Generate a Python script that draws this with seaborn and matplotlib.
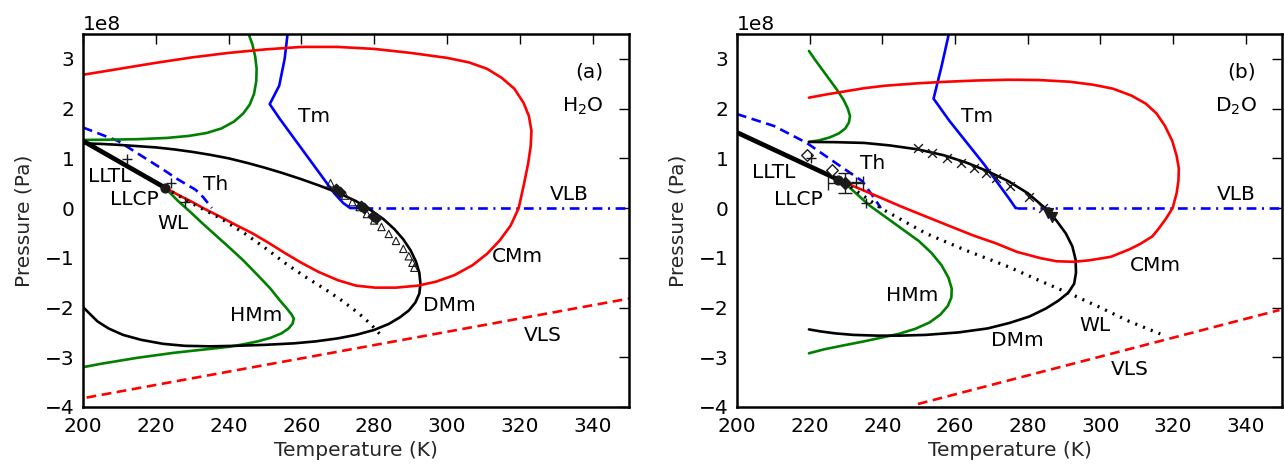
import numpy as np
import pandas as pd
import matplotlib
matplotlib.use("Agg")
import matplotlib.pyplot as plt
import seaborn as sns

sns.set_theme(style="white")
plt.rcParams['font.family'] = ['DejaVu Sans']
plt.rcParams['lines.scale_dashes'] = False
plt.rcParams['mathtext.default'] = 'regular'

FS = 14.5

# ---------------- Panel (a): H2O  (T in K, P in 1e8 Pa) ----------------
a_cmm_T = [200, 210, 220, 230, 240, 250, 260, 270, 280, 290, 300, 306, 311, 315, 318.5, 321,
           322.5, 323.2, 323.0, 322.3, 321.2, 319.7, 317.5, 314.5, 311, 307, 302, 297, 292,
           286, 280.3, 275, 270, 264.6, 260, 255.6, 251, 246.6, 242, 237.6, 233.5, 229.8,
           226, 222.5]
a_cmm_P = [2.68, 2.80, 2.92, 3.03, 3.12, 3.19, 3.24, 3.24, 3.20, 3.12, 3.02, 2.93, 2.80, 2.62,
           2.40, 2.12, 1.85, 1.55, 1.25, 0.90, 0.50, 0.0, -0.35, -0.65, -0.92, -1.15, -1.35,
           -1.48, -1.56, -1.60, -1.60, -1.56, -1.45, -1.28, -1.10, -0.91, -0.70, -0.51, -0.34,
           -0.17, -0.02, 0.13, 0.27, 0.41]

a_hmm_up_T = [245.5, 246.5, 247.3, 247.7, 247.6, 247.0, 245.8, 244.0, 241.5, 238.0, 234.0,
              229.0, 223.0, 215.0, 207.0, 200.0]
a_hmm_up_P = [3.50, 3.30, 3.05, 2.80, 2.55, 2.30, 2.08, 1.90, 1.74, 1.60, 1.51, 1.45, 1.41,
              1.385, 1.375, 1.37]
a_hmm_lo_T = [222.5, 226, 229.8, 233, 236.5, 240, 244, 248, 251.5, 254, 256, 257.3, 257.9,
              257.6, 256.5, 254.5, 251.5, 248, 244, 240, 235, 230, 225, 220, 215, 210, 205,
              200]
a_hmm_lo_P = [0.41, 0.15, -0.10, -0.32, -0.55, -0.78, -1.05, -1.35, -1.62, -1.85, -2.02,
              -2.14, -2.22, -2.32, -2.42, -2.52, -2.61, -2.68, -2.74, -2.79, -2.83, -2.87,
              -2.91, -2.96, -3.01, -3.07, -3.13, -3.20]

a_dmm_T = [200, 205, 210, 215, 220, 225, 230, 235, 240, 245, 250, 255, 260, 265, 270, 275,
           279, 282.5, 285.5, 288, 290, 291.5, 292.4, 292.7, 292.4, 291.3, 289.5, 287, 284,
           280, 275, 270, 264, 258, 250, 242, 235, 228, 222, 216, 211, 207, 204, 201.5, 200]
a_dmm_P = [1.30, 1.29, 1.27, 1.245, 1.22, 1.18, 1.13, 1.07, 1.00, 0.91, 0.81, 0.70, 0.58,
           0.45, 0.31, 0.14, -0.04, -0.22, -0.42, -0.63, -0.85, -1.08, -1.30, -1.52, -1.72,
           -1.90, -2.06, -2.20, -2.33, -2.45, -2.55, -2.62, -2.68, -2.72, -2.75, -2.77, -2.78,
           -2.77, -2.73, -2.65, -2.55, -2.42, -2.28, -2.10, -1.99]

a_lltl_T = [200, 222.5]
a_lltl_P = [1.35, 0.41]

a_th_T = [200, 209.6, 215, 221.9, 226, 230.9, 233, 235.4]
a_th_P = [1.62, 1.35, 1.10, 0.78, 0.58, 0.37, 0.22, 0.0]

a_tm_T = [256.2, 255.4, 253.9, 251.3, 254, 257, 260, 263, 266, 269, 271.5, 273.4, 277.0]
a_tm_P = [3.50, 3.00, 2.46, 2.09, 1.80, 1.50, 1.20, 0.90, 0.60, 0.30, 0.10, 0.0, 0.0]

a_vlb_T = [277, 350]
a_vlb_P = [0, 0]

a_wl_T = [222.5, 229.8, 237.6, 244.4, 250, 255.6, 261, 266.9, 271.5, 275.8, 279, 281.5]
a_wl_P = [0.41, 0.10, -0.20, -0.51, -0.80, -1.11, -1.38, -1.65, -1.88, -2.12, -2.33, -2.53]

a_vls_T = [201, 350]
a_vls_P = [-3.81, -1.82]

a_llcp_T = [222.5]
a_llcp_P = [0.41]
a_plus_T = [212.0, 224.2, 228.1]
a_plus_P = [0.99, 0.51, 0.13]
a_tri_T = [268, 270, 272, 274, 276, 278, 280, 282, 284, 286, 288, 289.5, 290.5, 291]
a_tri_P = [0.50, 0.38, 0.25, 0.12, 0.02, -0.12, -0.25, -0.38, -0.52, -0.66, -0.82, -0.97, -1.10, -1.20]
a_dia_T = [269.5, 270.5, 276.5, 277.2, 279.8, 280.4]
a_dia_P = [0.38, 0.32, 0.05, 0.0, -0.15, -0.20]

# ---------------- Panel (b): D2O ----------------
b_cmm_T = [219.8, 225, 230, 235, 240.7, 250, 257.7, 266, 274.7, 283, 291.6, 298, 303.5, 308.6,
           312.5, 315.5, 317.8, 319.8, 321.0, 321.6, 321.5, 321.0, 319.9, 318.0, 316.0, 314.3,
           311, 308, 302.9, 297, 292.8, 288, 283.7, 277, 271.3, 265, 258.8, 252, 245.2,
           239.5, 234, 229.4]
b_cmm_P = [2.22, 2.29, 2.35, 2.41, 2.46, 2.51, 2.54, 2.565, 2.58, 2.575, 2.54, 2.48, 2.40,
           2.26, 2.10, 1.90, 1.65, 1.35, 1.05, 0.80, 0.55, 0.30, 0.0, -0.22, -0.42, -0.57,
           -0.72, -0.83, -0.98, -1.05, -1.08, -1.07, -1.01, -0.88, -0.71, -0.55, -0.37,
           -0.17, 0.03, 0.21, 0.38, 0.52]

b_hmm_up_T = [219.8, 221.5, 223.5, 225.5, 227.5, 229.3, 230.5, 231.1, 230.8, 229.8, 228.0,
              225.5, 222.5, 219.8]
b_hmm_up_P = [3.16, 2.98, 2.78, 2.58, 2.38, 2.18, 2.00, 1.85, 1.72, 1.60, 1.50, 1.42, 1.36, 1.33]
b_hmm_lo_T = [229.4, 233, 236.5, 240.7, 246, 250, 253.5, 256.3, 258.2, 259.1, 259.0, 258.0,
              256.0, 253.0, 249.0, 244.5, 240.7, 235.0, 229.4, 224.0, 219.8]
b_hmm_lo_P = [0.52, 0.28, 0.05, -0.17, -0.45, -0.66, -0.90, -1.15, -1.40, -1.62, -1.80,
              -1.97, -2.14, -2.30, -2.43, -2.53, -2.59, -2.68, -2.76, -2.84, -2.92]

b_dmm_T = [219.8, 227, 235, 242, 249.8, 257, 263.3, 269, 274.7, 280, 284.8, 288, 290.5, 292.3,
           293.2, 293.3, 292.8, 291.2, 288.5, 285, 280.5, 275, 269, 261, 252, 245, 238.5,
           232, 227.1, 223, 219.8]
b_dmm_P = [1.33, 1.325, 1.31, 1.26, 1.18, 1.06, 0.91, 0.74, 0.54, 0.30, 0.0, -0.26, -0.51,
           -0.77, -1.04, -1.30, -1.52, -1.70, -1.86, -2.02, -2.18, -2.31, -2.42, -2.50,
           -2.55, -2.565, -2.565, -2.55, -2.52, -2.48, -2.44]

b_lltl_T = [200, 229.4]
b_lltl_P = [1.52, 0.52]

b_th_T = [200, 210.2, 219.2, 227.1, 231.1, 234.5, 237.0, 239.6]
b_th_P = [1.89, 1.65, 1.31, 0.91, 0.71, 0.54, 0.28, 0.0]

b_tm_T = [258.3, 256.3, 254.1, 258.5, 263.3, 268.0, 272.4, 274.8, 276.7, 277.0]
b_tm_P = [3.50, 2.85, 2.20, 1.75, 1.31, 0.88, 0.44, 0.20, 0.0, 0.0]

b_vlb_T = [277, 350]
b_vlb_P = [0, 0]

b_wl_T = [229.4, 240, 252, 263, 274.7, 283, 291.6, 300, 308, 316.5]
b_wl_P = [0.52, -0.02, -0.51, -0.85, -1.18, -1.45, -1.72, -2.00, -2.28, -2.53]

b_vls_T = [249.8, 349.3]
b_vls_P = [-3.94, -2.05]

b_llcp_T = [227.7]
b_llcp_P = [0.57]
b_plus_T = [220.4, 232.8, 235.6]
b_plus_P = [1.01, 0.52, 0.10]
b_odia_T = [219.2, 226.2]
b_odia_P = [1.06, 0.77]
b_x_T = [249.8, 253.8, 257.7, 261.7, 265.1, 268.4, 271.3, 275.2, 280.3, 284.3]
b_x_P = [1.21, 1.11, 1.01, 0.91, 0.81, 0.71, 0.61, 0.45, 0.22, 0.0]
b_tri_T = [285.5, 286.6]
b_tri_P = [-0.10, -0.17]
b_err_T = [229.8]
b_err_P = [0.50]
b_err_dT = [4.8]
b_err_dP = [0.20]

x_ticks = [200, 220, 240, 260, 280, 300, 320, 340]
y_ticks = [-4, -3, -2, -1, 0, 1, 2, 3]

E8 = 1e8
DASH = (0, (7, 4))
DASHDOT = (0, (7, 4, 1.5, 4))
DOT = (0, (1.5, 4.5))
LW = 1.9


def curve(ax, T, P, color, lw=LW, ls='-'):
    df = pd.DataFrame({'T': T, 'P': np.asarray(P) * E8})
    sns.lineplot(data=df, x='T', y='P', sort=False, estimator=None, ax=ax,
                 color=color, linewidth=lw, linestyle=ls)


def pts(ax, T, P, marker, s, fc='k', ec='k', lw=1.0):
    df = pd.DataFrame({'T': T, 'P': np.asarray(P) * E8})
    if marker in ('+', 'x'):
        sns.scatterplot(data=df, x='T', y='P', ax=ax, marker=marker, s=s,
                        color=ec, linewidth=lw, zorder=6)
    else:
        sns.scatterplot(data=df, x='T', y='P', ax=ax, marker=marker, s=s,
                        facecolor=fc, edgecolor=ec, linewidth=lw, zorder=6)


fig = plt.figure(figsize=(12.84, 4.68), dpi=100)
axA = fig.add_axes([83 / 1284, 61 / 468, 546 / 1284, 373 / 468])
axB = fig.add_axes([737 / 1284, 61 / 468, 545 / 1284, 373 / 468])

green = '#008000'

# ---- Panel a ----
ax = axA
curve(ax, a_vls_T, a_vls_P, 'red', ls=DASH)
curve(ax, a_vlb_T, a_vlb_P, 'blue', ls=DASHDOT)
curve(ax, a_tm_T, a_tm_P, 'blue')
curve(ax, a_th_T, a_th_P, 'blue', ls=DASH)
curve(ax, a_hmm_up_T, a_hmm_up_P, green)
curve(ax, a_hmm_lo_T, a_hmm_lo_P, green)
curve(ax, a_dmm_T, a_dmm_P, 'black')
curve(ax, a_cmm_T, a_cmm_P, 'red')
curve(ax, a_wl_T, a_wl_P, 'black', lw=2.3, ls=DOT)
curve(ax, a_lltl_T, a_lltl_P, 'black', lw=3.4)
pts(ax, a_tri_T, a_tri_P, '^', 28, fc='none', ec='k', lw=0.8)
pts(ax, a_dia_T, a_dia_P, 'D', 28)
pts(ax, a_plus_T, a_plus_P, '+', 50, lw=1.0)
pts(ax, a_llcp_T, a_llcp_P, 'o', 40)

labels_a = [("LLTL", 207.3, 0.64), ("LLCP", 214.0, 0.18), ("WL", 224.7, -0.32),
            ("Th", 236.5, 0.47), ("Tm", 263.5, 1.84), ("HMm", 247.5, -2.16),
            ("DMm", 300.6, -1.96), ("CMm", 319.4, -0.98), ("VLS", 326.4, -2.56),
            ("VLB", 333.7, 0.28), ("(a)", 339.0, 2.73), ("H$_2$O", 337.4, 2.04)]
for s, x, y in labels_a:
    ax.text(x, y * E8, s, ha='center', va='center', fontsize=FS, color='black')

# ---- Panel b ----
ax = axB
curve(ax, b_vls_T, b_vls_P, 'red', ls=DASH)
curve(ax, b_vlb_T, b_vlb_P, 'blue', ls=DASHDOT)
curve(ax, b_tm_T, b_tm_P, 'blue')
curve(ax, b_th_T, b_th_P, 'blue', ls=DASH)
curve(ax, b_hmm_up_T, b_hmm_up_P, green)
curve(ax, b_hmm_lo_T, b_hmm_lo_P, green)
curve(ax, b_dmm_T, b_dmm_P, 'black')
curve(ax, b_cmm_T, b_cmm_P, 'red')
curve(ax, b_wl_T, b_wl_P, 'black', lw=2.3, ls=DOT)
curve(ax, b_lltl_T, b_lltl_P, 'black', lw=3.4)
pts(ax, b_x_T, b_x_P, 'x', 40, lw=1.0)
pts(ax, b_odia_T, b_odia_P, 'D', 35, fc='white', ec='k', lw=1.0)
pts(ax, b_plus_T, b_plus_P, '+', 50, lw=1.0)
pts(ax, b_tri_T, b_tri_P, 'v', 50)
pts(ax, b_llcp_T, b_llcp_P, 'o', 40)
ax.errorbar(b_err_T, np.asarray(b_err_P) * E8, xerr=b_err_dT,
            yerr=np.asarray(b_err_dP) * E8, fmt='D', color='k', ms=6.5,
            capsize=5, elinewidth=1.0, capthick=1.0, zorder=7)

labels_b = [("LLTL", 210.2, 0.72), ("LLCP", 217.0, 0.18), ("Th", 237.3, 0.90),
            ("Tm", 266.2, 1.84), ("HMm", 248.1, -1.75), ("DMm", 277.1, -2.66),
            ("WL", 298.4, -2.36), ("CMm", 315.2, -1.16), ("VLS", 308.0, -3.25),
            ("VLB", 337.4, 0.28), ("(b)", 338.9, 2.73), ("D$_2$O", 337.4, 2.04)]
for s, x, y in labels_b:
    ax.text(x, y * E8, s, ha='center', va='center', fontsize=FS, color='black')

for ax in (axA, axB):
    ax.set_xlim(200, 350)
    ax.set_ylim(-4e8, 3.5e8)
    ax.set_xticks(x_ticks)
    ax.set_yticks([v * E8 for v in y_ticks])
    ax.tick_params(direction='in', length=7, width=1.0, top=True, right=True,
                   labelsize=FS, colors='black')
    ax.tick_params(axis='x', pad=7.5)
    ax.tick_params(axis='y', pad=6)
    ax.set_xlabel("Temperature (K)", fontsize=FS, labelpad=3)
    ax.set_ylabel("Pressure (Pa)", fontsize=FS, labelpad=8)
    ax.yaxis.get_offset_text().set_fontsize(FS)
    for sp in ax.spines.values():
        sp.set_linewidth(1.8)
        sp.set_color('black')
        sp.set_visible(True)
    ax.grid(False)

fig.savefig("out.png", dpi=100)
